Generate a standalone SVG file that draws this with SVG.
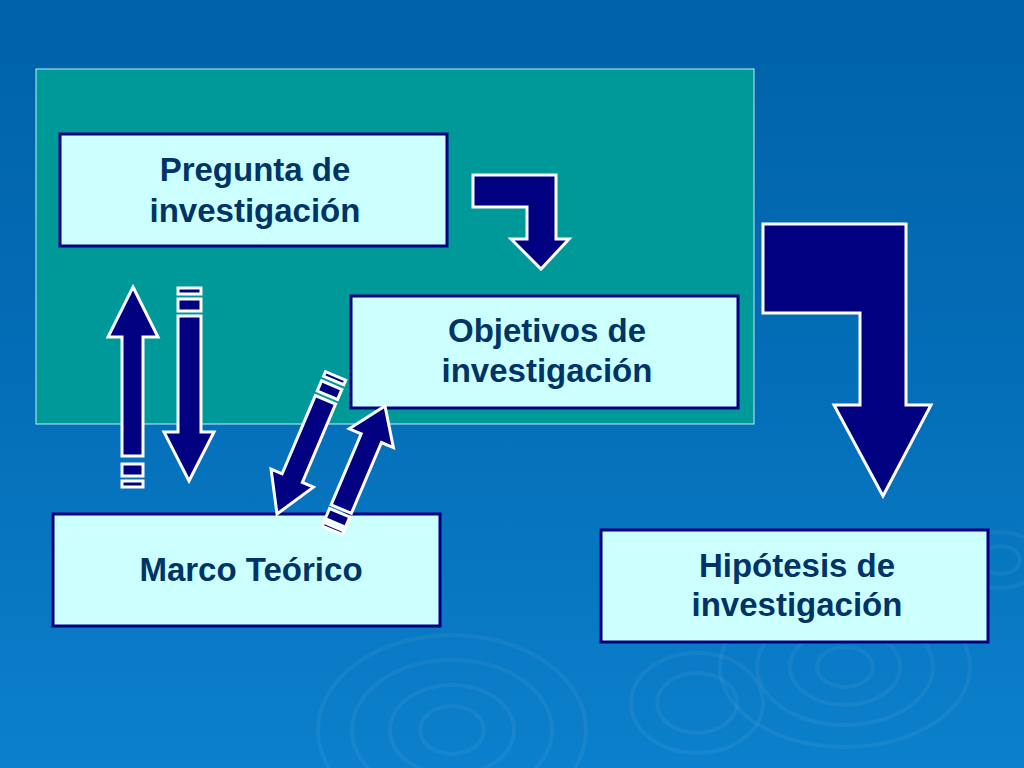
<svg xmlns="http://www.w3.org/2000/svg" width="1024" height="768" viewBox="0 0 1024 768">
<defs>
<linearGradient id="bg" x1="0" y1="0" x2="0" y2="1">
<stop offset="0" stop-color="#0062A8"/>
<stop offset="0.5" stop-color="#046EB8"/>
<stop offset="1" stop-color="#0C80CC"/>
</linearGradient>
<style>
.box{fill:#CCFFFF;stroke:#000080;stroke-width:3}
.lbl{font-family:"Liberation Sans",Arial,sans-serif;font-weight:bold;font-size:33px;fill:#003366;text-anchor:middle}
.arr{fill:#000080;stroke:#FFFFFF;stroke-width:3;stroke-linejoin:miter}
.rip{fill:none;stroke:#FFFFFF;stroke-opacity:0.05;stroke-width:4}
</style>
</defs>
<rect x="0" y="0" width="1024" height="768" fill="url(#bg)"/>
<g id="ripples">
<ellipse class="rip" cx="452" cy="730" rx="134" ry="95"/>
<ellipse class="rip" cx="452" cy="730" rx="100" ry="70"/>
<ellipse class="rip" cx="452" cy="730" rx="62" ry="45"/>
<ellipse class="rip" cx="452" cy="730" rx="32" ry="24"/>
<ellipse class="rip" cx="697" cy="703" rx="66" ry="50"/>
<ellipse class="rip" cx="697" cy="703" rx="40" ry="30"/>
<ellipse class="rip" cx="845" cy="667" rx="125" ry="80"/>
<ellipse class="rip" cx="845" cy="667" rx="88" ry="58"/>
<ellipse class="rip" cx="845" cy="667" rx="55" ry="38"/>
<ellipse class="rip" cx="845" cy="667" rx="28" ry="20"/>
<ellipse class="rip" cx="1000" cy="560" rx="40" ry="28"/>
<ellipse class="rip" cx="1000" cy="560" rx="20" ry="14"/>
</g>
<rect id="panel" x="36" y="69" width="718" height="355" fill="#009999" stroke="#BFEFEF" stroke-width="1"/>
<g id="pregunta">
<rect class="box" x="60" y="134" width="387" height="112"/>
<text class="lbl" x="255" y="181">Pregunta de</text>
<text class="lbl" x="255" y="222">investigación</text>
</g>
<g id="objetivos">
<rect class="box" x="351" y="296" width="387" height="112"/>
<text class="lbl" x="547" y="342">Objetivos de</text>
<text class="lbl" x="547" y="382">investigación</text>
</g>
<g id="marco">
<rect class="box" x="53" y="514" width="387" height="112"/>
<text class="lbl" x="251" y="581">Marco Teórico</text>
</g>
<g id="hipotesis">
<rect class="box" x="601" y="530" width="387" height="112"/>
<text class="lbl" x="797" y="577">Hipótesis de</text>
<text class="lbl" x="797" y="616">investigación</text>
</g>
<g id="connectors">
<polygon class="arr" points="473,175 556,175 556,239 569,239 541,269 511,239 527,239 527,207 473,207"/>
<polygon class="arr" points="763,224 906,224 906,405 931,405 883,496 834,405 860,405 860,313 763,313"/>
<g id="up-left">
<polygon class="arr" points="133,287 158,337 143,337 143,456 122,456 122,337 108,337"/>
<rect class="arr" x="122" y="464" width="21" height="12"/>
<rect class="arr" x="122" y="481" width="21" height="6"/>
</g>
<g id="down-left">
<rect class="arr" x="178" y="288" width="23" height="6"/>
<rect class="arr" x="178" y="299" width="23" height="12"/>
<polygon class="arr" points="178,316 201,316 201,432 214,432 189,481 164,432 178,432"/>
</g>
<g transform="translate(277,514) rotate(23)">
<polygon class="arr" points="0,0 23,-39 11,-39 11,-124 -11,-124 -11,-39 -23,-39"/>
<rect class="arr" x="-11" y="-140" width="22" height="11"/>
<rect class="arr" x="-11" y="-150" width="22" height="5"/>
</g>
<g transform="translate(385,406) rotate(23)">
<polygon class="arr" points="0,0 24,35 11,35 11,112 -11,112 -11,35 -24,35"/>
<rect class="arr" x="-11" y="116" width="22" height="11"/>
<rect class="arr" x="-11" y="131" width="22" height="4"/>
</g>
</g>
</svg>
